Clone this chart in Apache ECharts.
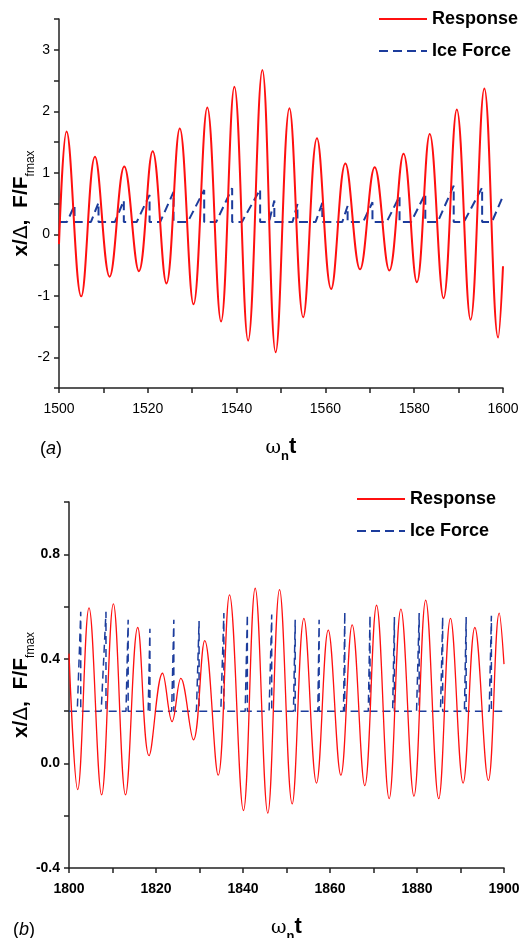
<!DOCTYPE html>
<html>
<head>
<meta charset="utf-8">
<title>Response / Ice Force</title>
<script src="https://cdn.jsdelivr.net/npm/echarts@6/dist/echarts.min.js"></script>
<style>
  html, body { margin: 0; padding: 0; background: #fff; }
  #chart { width: 528px; height: 938px; }
</style>
</head>
<body>
<div id="chart"></div>
<script>
// ---- (a) omega_n t = 1500..1600 ----
// response: start, then alternating peaks / troughs
const respA_t = [1500, 1501.7, 1505.0, 1508.1, 1511.4, 1514.7, 1518.0, 1521.1, 1524.2, 1527.2, 1530.3,
  1533.4, 1536.5, 1539.5, 1542.6, 1545.8, 1548.8, 1551.9, 1555.0, 1558.1, 1561.3, 1564.5, 1567.8,
  1571.1, 1574.4, 1577.6, 1580.6, 1583.5, 1586.6, 1589.6, 1592.7, 1595.8, 1598.9, 1600];
const respA_v = [-0.16, 1.67, -1.01, 1.26, -0.69, 1.10, -0.60, 1.35, -0.80, 1.72, -1.14,
  2.06, -1.42, 2.40, -1.73, 2.67, -1.92, 2.05, -1.35, 1.56, -0.89, 1.15, -0.57,
  1.09, -0.59, 1.31, -0.78, 1.63, -1.04, 2.03, -1.39, 2.37, -1.68, -0.52];
// ice force sawtooth: ramp start, ramp top (drop) time, top value
const iceA_start = [1501.8, 1507.2, 1512.6, 1517.5, 1522.8, 1529.0, 1535.4, 1541.2, 1547.3, 1552.6,
  1557.8, 1563.8, 1568.5, 1573.8, 1579.3, 1585.3, 1591.2, 1597.5];
const iceA_top = [1503.5, 1508.9, 1514.6, 1520.4, 1525.8, 1532.7, 1539.0, 1545.3, 1548.5, 1553.7,
  1559.3, 1565.0, 1570.6, 1576.7, 1582.5, 1588.9, 1595.3, 1600];
const iceA_peak = [0.47, 0.515, 0.55, 0.64, 0.69, 0.72, 0.75, 0.73, 0.55, 0.49,
  0.51, 0.46, 0.52, 0.62, 0.66, 0.79, 0.76, 0.62];

// ---- (b) omega_n t = 1800..1900 ----
const respB_t = [1800, 1802.0, 1804.6, 1807.5, 1810.2, 1813.0, 1815.8, 1818.4, 1821.5, 1823.7, 1825.7,
  1828.6, 1831.2, 1834.3, 1836.9, 1840.1, 1842.8, 1845.7, 1848.4, 1851.3, 1854.0, 1856.9, 1859.6,
  1862.5, 1865.1, 1868.0, 1870.7, 1873.6, 1876.3, 1879.3, 1882.0, 1885.0, 1887.7, 1890.6, 1893.3,
  1896.4, 1898.9, 1900];
const respB_v = [0.42, -0.10, 0.595, -0.12, 0.61, -0.12, 0.52, 0.03, 0.345, 0.16, 0.325,
  0.09, 0.47, -0.045, 0.645, -0.18, 0.67, -0.19, 0.665, -0.155, 0.555, -0.075, 0.51,
  -0.045, 0.53, -0.085, 0.605, -0.135, 0.59, -0.125, 0.625, -0.135, 0.555, -0.075, 0.52,
  -0.065, 0.575, 0.38];
// ice force spikes: rise time, drop time, top value
const iceB_start = [1801.9, 1807.4, 1813.1, 1818.2, 1823.6, 1829.3, 1834.9, 1840.5, 1846.0, 1851.6,
  1857.2, 1863.1, 1868.8, 1874.4, 1879.9, 1885.4, 1890.9, 1896.6];
const iceB_top = [1802.7, 1808.5, 1813.6, 1818.6, 1824.1, 1829.9, 1835.6, 1841.0, 1846.6, 1852.0,
  1857.5, 1863.4, 1869.2, 1874.8, 1880.5, 1885.9, 1891.3, 1897.1];
const iceB_peak = [0.58, 0.58, 0.55, 0.515, 0.55, 0.545, 0.575, 0.57, 0.57, 0.55,
  0.55, 0.58, 0.565, 0.56, 0.575, 0.56, 0.56, 0.565];

const iceBase = 0.2;

const FONT = "'Liberation Sans', Arial, sans-serif";
const RED = "#ff1010";
const BLUE = "#1c3c9c";

function pairs(ts, vs) {
  return ts.map((t, i) => [t, vs[i]]);
}

function sawtooth(x0, x1, starts, tops, peaks) {
  const pts = [[x0, iceBase]];
  starts.forEach((s, i) => {
    pts.push([s, iceBase]);
    pts.push([tops[i], peaks[i]]);
    if (tops[i] < x1) pts.push([tops[i], iceBase]);
  });
  if (pts[pts.length - 1][0] < x1) pts.push([x1, iceBase]);
  return pts;
}

const axisLineStyle = { color: "#222", width: 1.5 };

function xAxisCfg(idx, min, bold) {
  return {
    type: "value",
    gridIndex: idx,
    min: min,
    max: min + 100,
    interval: 10,
    axisLine: { show: true, onZero: false, lineStyle: axisLineStyle },
    axisTick: { show: true, length: 5, lineStyle: axisLineStyle },
    splitLine: { show: false },
    axisLabel: {
      margin: 14,
      color: "#000",
      fontSize: 14,
      fontFamily: FONT,
      fontWeight: bold ? "bold" : "normal",
      formatter: (v) => (Math.round(v) % 20 === 0 ? String(Math.round(v)) : ""),
    },
    name: "{w|ω}{n|n}{t|t}",
    nameLocation: "middle",
    nameGap: 48,
    nameMoveOverlap: false,
    nameTextStyle: {
      rich: {
        w: { fontSize: 19, fontFamily: "'DejaVu Serif', serif", color: "#000", verticalAlign: "bottom", padding: [0, 0, 5, 0] },
        n: { fontSize: 13, fontWeight: "bold", fontFamily: FONT, color: "#000", verticalAlign: "bottom" },
        t: { fontSize: 22, fontWeight: "bold", fontFamily: FONT, color: "#000", verticalAlign: "bottom", padding: [0, 0, 5, 0] },
      },
    },
  };
}

function yAxisCfg(idx, min, max, interval, fmt, bold, gap) {
  return {
    type: "value",
    gridIndex: idx,
    min: min,
    max: max,
    interval: interval,
    axisLine: { show: true, onZero: false, lineStyle: axisLineStyle },
    axisTick: { show: true, length: 5, lineStyle: axisLineStyle },
    splitLine: { show: false },
    axisLabel: {
      margin: 9,
      color: "#000",
      fontSize: 14,
      fontFamily: FONT,
      fontWeight: bold ? "bold" : "normal",
      formatter: fmt,
    },
    name: "{m|x/}{d|Δ}{m|,  F/F}{s|fmax}",
    nameLocation: "middle",
    nameGap: gap,
    nameRotate: 90,
    nameMoveOverlap: false,
    nameTextStyle: {
      rich: {
        m: { fontSize: 21, fontWeight: "bold", fontFamily: FONT, color: "#000", verticalAlign: "bottom", padding: [0, 0, 5, 0] },
        d: { fontSize: 20, fontFamily: "'DejaVu Sans', sans-serif", fontWeight: "normal", color: "#000", verticalAlign: "bottom", padding: [0, 0, 5, 0] },
        s: { fontSize: 12, fontWeight: "normal", fontFamily: FONT, color: "#000", verticalAlign: "bottom" },
      },
    },
  };
}

const legendText = { fontSize: 18, fontWeight: "bold", fontFamily: FONT, color: "#000" };

function legendCfg(left, top) {
  return {
    data: ["Response", "Ice Force"],
    orient: "vertical",
    left: left,
    top: top,
    itemWidth: 48,
    itemHeight: 14,
    itemGap: 14,
    selectedMode: false,
    itemStyle: { opacity: 0 },
    textStyle: legendText,
  };
}

const option = {
  animation: false,
  backgroundColor: "#fff",
  grid: [
    { left: 59, top: 19, width: 444, height: 369, outerBoundsMode: "none" },
    { left: 69, top: 502, width: 435, height: 366, outerBoundsMode: "none" },
  ],
  legend: [legendCfg(373, 5), legendCfg(351, 485)],
  xAxis: [xAxisCfg(0, 1500, false), xAxisCfg(1, 1800, true)],
  yAxis: [
    yAxisCfg(0, -2.5, 3.5, 0.5,
      (v) => (Math.abs(v - Math.round(v)) < 1e-6 ? String(Math.round(v)) : ""), false, 22),
    yAxisCfg(1, -0.4, 1.0, 0.2,
      (v) => {
        const k = Math.round(v * 10);
        return k % 4 === 0 ? (k / 10).toFixed(1) : "";
      }, true, 32),
  ],
  graphic: [
    {
      type: "text",
      left: 40,
      top: 440,
      style: { text: "{p|(}{i|a}{p|)}", rich: {
        p: { fontSize: 18, fontFamily: FONT, fill: "#000" },
        i: { fontSize: 18, fontFamily: FONT, fontStyle: "italic", fill: "#000" } } },
    },
    {
      type: "text",
      left: 13,
      top: 921,
      style: { text: "{p|(}{i|b}{p|)}", rich: {
        p: { fontSize: 18, fontFamily: FONT, fill: "#000" },
        i: { fontSize: 18, fontFamily: FONT, fontStyle: "italic", fill: "#000" } } },
    },
  ],
  series: [
    {
      name: "Response",
      type: "line",
      xAxisIndex: 0,
      yAxisIndex: 0,
      data: pairs(respA_t, respA_v),
      smooth: 0.4,
      symbol: "none",
      lineStyle: { color: RED, width: 2 },
      itemStyle: { color: RED },
      z: 3,
    },
    {
      name: "Ice Force",
      type: "line",
      xAxisIndex: 0,
      yAxisIndex: 0,
      data: sawtooth(1500, 1600, iceA_start, iceA_top, iceA_peak),
      symbol: "none",
      lineStyle: { color: BLUE, width: 2, type: [9, 5] },
      itemStyle: { color: BLUE },
      z: 2,
    },
    {
      name: "Response",
      type: "line",
      xAxisIndex: 1,
      yAxisIndex: 1,
      data: pairs(respB_t, respB_v),
      smooth: 0.4,
      symbol: "none",
      lineStyle: { color: RED, width: 1.3 },
      itemStyle: { color: RED },
      z: 3,
    },
    {
      name: "Ice Force",
      type: "line",
      xAxisIndex: 1,
      yAxisIndex: 1,
      data: sawtooth(1800, 1900, iceB_start, iceB_top, iceB_peak),
      symbol: "none",
      lineStyle: { color: BLUE, width: 1.5, type: [8, 5] },
      itemStyle: { color: BLUE },
      z: 2,
    },
  ],
};

const chart = echarts.init(document.getElementById("chart"));
chart.setOption(option);
</script>
</body>
</html>
